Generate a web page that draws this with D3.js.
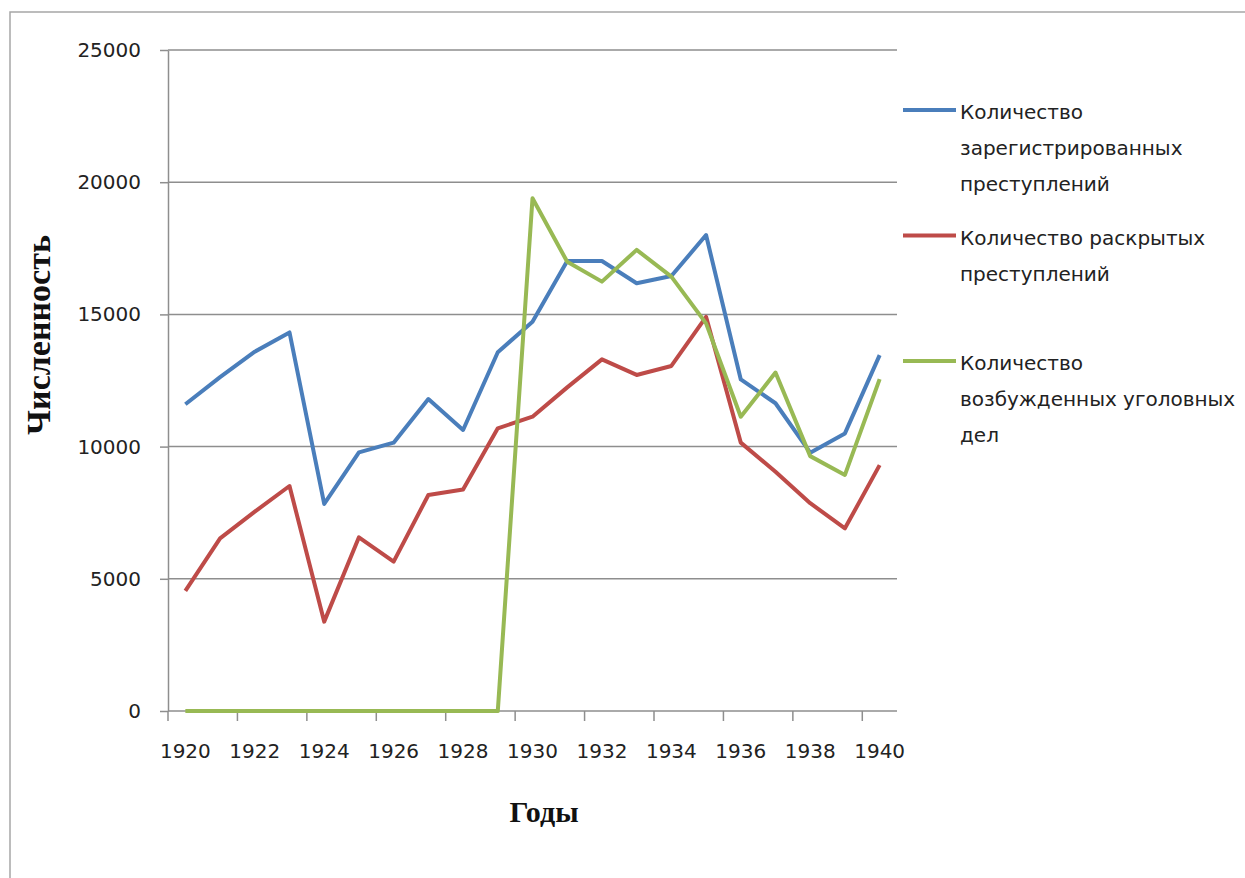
<!DOCTYPE html>
<html>
<head>
<meta charset="utf-8">
<script src="https://cdn.jsdelivr.net/npm/d3@7"></script>
<style>
  html, body { margin: 0; padding: 0; background: #fff; }
  svg { display: block; }
  .tick-label { font-family: "DejaVu Sans", sans-serif; font-size: 20px; fill: #222; }
</style>
</head>
<body>
<svg id="chart" width="1245" height="878"></svg>
<script>
// ── Data ──────────────────────────────────────────────────────────
var years = d3.range(1920, 1941).map(String);

var registered = [11600, 12630, 13590, 14320, 7830, 9780, 10150, 11800, 10630, 13570,
                  14720, 17020, 17020, 16180, 16450, 18000, 12540, 11640, 9770, 10500, 13460];
var solved     = [4540, 6530, 7540, 8510, 3380, 6570, 5650, 8170, 8380, 10690,
                  11130, 12240, 13300, 12710, 13050, 14910, 10150, 9050, 7860, 6910, 9300];
var cases      = [0, 0, 0, 0, 0, 0, 0, 0, 0, 0,
                  19390, 16990, 16240, 17440, 16430, 14660, 11130, 12800, 9640, 8930, 12550];

var yTicks = [0, 5000, 10000, 15000, 20000, 25000];
var xLabels = ["1920", "1922", "1924", "1926", "1928", "1930", "1932", "1934", "1936", "1938", "1940"];

var seriesNames = [
  ["Количество", "зарегистрированных", "преступлений"],
  ["Количество раскрытых", "преступлений"],
  ["Количество", "возбужденных уголовных", "дел"]
];
var seriesColors = ["#4A7EBB", "#BE4B48", "#98B954"];
var seriesValues = [registered, solved, cases];

// ── Layout ────────────────────────────────────────────────────────
var LEFT = 168, RIGHT = 897, TOP = 50, BOTTOM = 711;
var GRID = "#8e8e8e";

var svg = d3.select("#chart");

// outer chart frame (only left/top visible in the picture)
svg.append("rect")
  .attr("x", 10).attr("y", 12)
  .attr("width", 1300).attr("height", 900)
  .attr("fill", "none").attr("stroke", "#a6a6a6").attr("stroke-width", 1.5);

var x = d3.scaleBand().domain(years).range([LEFT, RIGHT]).padding(0);
var y = d3.scaleLinear().domain([0, 25000]).range([BOTTOM, TOP]);

// ── Gridlines + y axis ───────────────────────────────────────────
var yAxis = svg.append("g")
  .attr("transform", "translate(" + LEFT + ",0)")
  .call(d3.axisLeft(y).tickValues(yTicks).tickFormat(d3.format("d"))
    .tickSizeInner(8).tickSizeOuter(0).tickPadding(19));
yAxis.select(".domain").attr("stroke", GRID).attr("stroke-width", 1.5);
yAxis.selectAll(".tick line").attr("stroke", GRID).attr("stroke-width", 1.5);
yAxis.selectAll(".tick text").attr("class", "tick-label").attr("fill", "#222");

svg.append("g").selectAll("line")
  .data(yTicks)
  .enter().append("line")
  .attr("x1", LEFT).attr("x2", RIGHT)
  .attr("y1", function (d) { return y(d); })
  .attr("y2", function (d) { return y(d); })
  .attr("stroke", GRID).attr("stroke-width", 1.5);

// ── x axis ───────────────────────────────────────────────────────
var xAxis = svg.append("g")
  .attr("transform", "translate(0," + BOTTOM + ")")
  .call(d3.axisBottom(x).tickValues(xLabels).tickSize(0).tickPadding(33));
xAxis.select(".domain").remove();
xAxis.selectAll(".tick text").attr("class", "tick-label").attr("fill", "#222");

// tick marks sit on category boundaries, every second year
svg.append("g").selectAll("line")
  .data(xLabels)
  .enter().append("line")
  .attr("x1", function (d) { return x(d); })
  .attr("x2", function (d) { return x(d); })
  .attr("y1", BOTTOM).attr("y2", BOTTOM + 10)
  .attr("stroke", GRID).attr("stroke-width", 1.5);

// ── Axis titles ──────────────────────────────────────────────────
svg.append("text")
  .attr("transform", "translate(50,335) rotate(-90)")
  .attr("text-anchor", "middle")
  .style("font-family", "'Liberation Serif', 'Times New Roman', serif")
  .style("font-weight", "bold")
  .style("font-size", "34px")
  .attr("fill", "#111")
  .text("Численность");

svg.append("text")
  .attr("x", 544).attr("y", 822)
  .attr("text-anchor", "middle")
  .style("font-family", "'Liberation Serif', 'Times New Roman', serif")
  .style("font-weight", "bold")
  .style("font-size", "30px")
  .attr("fill", "#111")
  .text("Годы");

// ── Lines ────────────────────────────────────────────────────────
var line = d3.line()
  .x(function (d, i) { return x(years[i]) + x.bandwidth() / 2; })
  .y(function (d) { return y(d); });

svg.append("g").selectAll("path")
  .data(seriesValues)
  .enter().append("path")
  .attr("d", line)
  .attr("fill", "none")
  .attr("stroke", function (d, i) { return seriesColors[i]; })
  .attr("stroke-width", 4)
  .attr("stroke-linejoin", "round");

// ── Legend ───────────────────────────────────────────────────────
var legend = svg.append("g").selectAll("g")
  .data(seriesNames)
  .enter().append("g")
  .attr("transform", function (d, i) { return "translate(0," + (110 + i * 125.5) + ")"; });

legend.append("line")
  .attr("x1", 903).attr("x2", 956)
  .attr("y1", 0).attr("y2", 0)
  .attr("stroke", function (d, i) { return seriesColors[i]; })
  .attr("stroke-width", 4);

legend.each(function (lines) {
  d3.select(this).selectAll("text")
    .data(lines)
    .enter().append("text")
    .attr("class", "tick-label")
    .attr("x", 960)
    .attr("y", function (d, j) { return 9 + j * 36; })
    .text(function (d) { return d; });
});
</script>
</body>
</html>
